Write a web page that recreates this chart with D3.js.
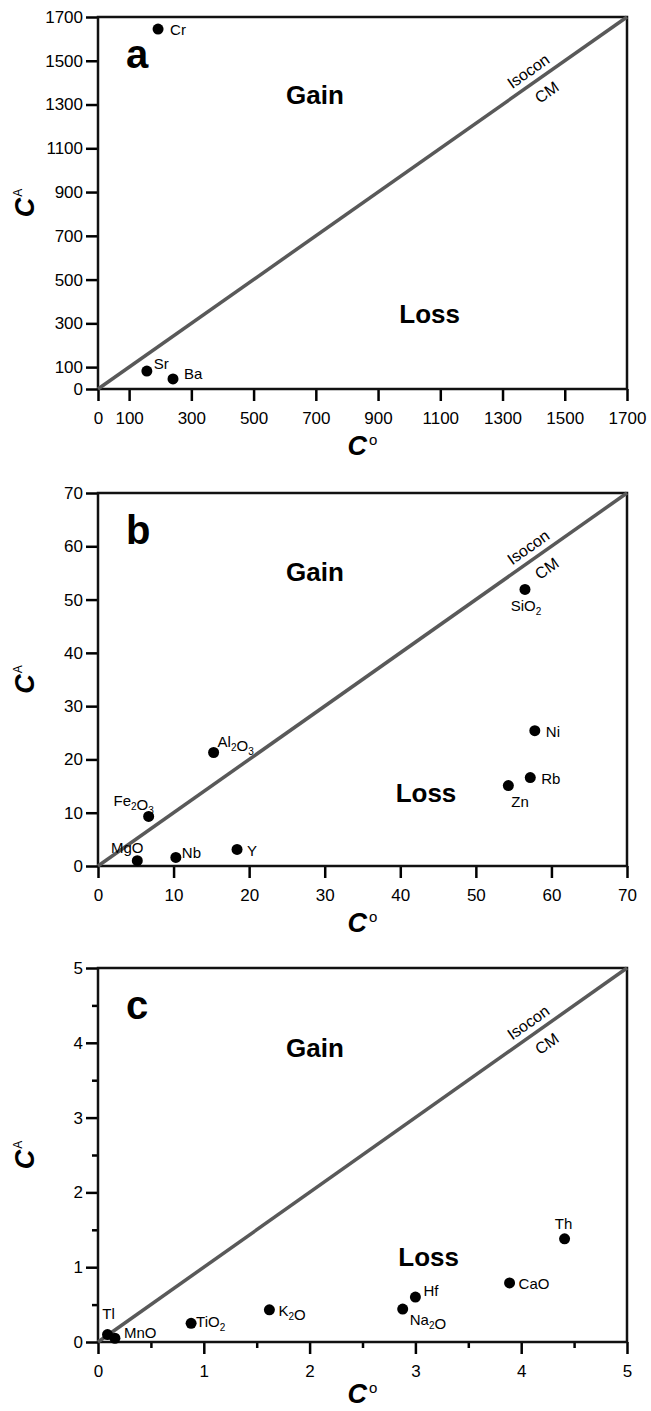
<!DOCTYPE html>
<html>
<head>
<meta charset="utf-8">
<script src="https://cdn.jsdelivr.net/npm/d3@7"></script>
<style>
  html, body { margin: 0; padding: 0; background: #fff; }
  svg { display: block; }
  text { font-family: "Liberation Sans", Arial, sans-serif; fill: #000; }
</style>
</head>
<body>
<svg id="chart" width="651" height="1411"></svg>
<script>
// ---- Isocon data: original concentration (C°) vs altered concentration (C^A) ----

// (a) high-concentration trace elements, ppm
const aNames = ["Cr", "Sr", "Ba"];
const aCo    = [193, 157, 241];
const aCa    = [1645, 82, 46];
const aTicks = [0, 100, 300, 500, 700, 900, 1100, 1300, 1500, 1700];

// (b) major oxides (wt%) and trace elements
const bNames = ["SiO2", "Ni", "Rb", "Zn", "Al2O3", "Fe2O3", "MgO", "Nb", "Y"];
const bCo    = [56.5, 57.8, 57.2, 54.3, 15.3, 6.7, 5.2, 10.3, 18.4];
const bCa    = [51.9, 25.4, 16.6, 15.1, 21.3, 9.3, 1.0, 1.6, 3.1];
const bTicks = [0, 10, 20, 30, 40, 50, 60, 70];

// (c) minor oxides and trace elements
const cNames = ["Tl", "MnO", "TiO2", "K2O", "Hf", "Na2O", "CaO", "Th"];
const cCo    = [0.09, 0.16, 0.88, 1.62, 3.0, 2.88, 3.89, 4.41];
const cCa    = [0.10, 0.05, 0.25, 0.43, 0.60, 0.44, 0.79, 1.38];
const cTicks = [0, 1, 2, 3, 4, 5];
const cMinor = [0.5, 1.5, 2.5, 3.5, 4.5];

// ---- layout ----
const svg = d3.select("#chart");
const LEFT = 98, RIGHT = 627;
const FONT = "'Liberation Sans', Arial, sans-serif";

// label placement relative to each dot: [dx, dy, anchor]
const labelPos = {
  Cr: [12, 6, "start"], Sr: [7, -2, "start"], Ba: [11, 0, "start"],
  SiO2: [1, 22, "middle"], Ni: [11, 6, "start"], Rb: [11, 6, "start"],
  Zn: [3, 21, "start"], Al2O3: [4, -6, "start"], Fe2O3: [-15, -10, "middle"],
  MgO: [-10, -8, "middle"], Nb: [6, 1, "start"], Y: [10, 7, "start"],
  Tl: [1, -16, "middle"], MnO: [9, 0, "start"], TiO2: [5, 4, "start"],
  K2O: [9, 6, "start"], Hf: [8, -1, "start"], Na2O: [7, 16, "start"],
  CaO: [9, 6, "start"], Th: [-1, -10, "middle"]
};

// write a chemical formula with digits as subscripts
function formula(sel, name) {
  const parts = name.match(/[A-Za-z]+|\d+/g);
  parts.forEach(p => {
    if (/\d/.test(p)) {
      sel.append("tspan").attr("font-size", 10).attr("dy", 4).text(p);
      sel.append("tspan").attr("dy", -4).text("");
    } else {
      sel.append("tspan").text(p);
    }
  });
}

function drawPanel(cfg) {
  const g = svg.append("g");
  const x = d3.scaleLinear().domain([0, cfg.max]).range([LEFT, RIGHT]);
  const y = d3.scaleLinear().domain([0, cfg.max]).range([cfg.bottom, cfg.top]);

  // x axis
  const xa = g.append("g")
    .attr("transform", `translate(0,${cfg.bottom})`)
    .call(d3.axisBottom(x).tickValues(cfg.ticks).tickSize(12).tickPadding(11).tickFormat(d3.format("d")));
  // y axis
  const ya = g.append("g")
    .attr("transform", `translate(${LEFT},0)`)
    .call(d3.axisLeft(y).tickValues(cfg.ticks).tickSize(12).tickPadding(3).tickFormat(d3.format("d")));
  [xa, ya].forEach(a => {
    a.select(".domain").remove();
    a.selectAll(".tick line").attr("stroke", "#000").attr("stroke-width", 2.5);
    a.selectAll(".tick text").attr("font-size", 17).attr("font-family", FONT).attr("fill", "#000");
  });

  if (cfg.minor) {
    const mx = g.append("g").attr("transform", `translate(0,${cfg.bottom})`)
      .call(d3.axisBottom(x).tickValues(cfg.minor).tickSize(6).tickFormat(""));
    const my = g.append("g").attr("transform", `translate(${LEFT},0)`)
      .call(d3.axisLeft(y).tickValues(cfg.minor).tickSize(6).tickFormat(""));
    [mx, my].forEach(a => {
      a.select(".domain").remove();
      a.selectAll(".tick line").attr("stroke", "#000").attr("stroke-width", 2.5);
    });
  }

  // frame
  g.append("rect")
    .attr("x", LEFT).attr("y", cfg.top)
    .attr("width", RIGHT - LEFT).attr("height", cfg.bottom - cfg.top)
    .attr("fill", "none").attr("stroke", "#111").attr("stroke-width", 2.5);

  // isocon (constant mass) line, C^A = C°
  g.append("line")
    .attr("x1", x(0)).attr("y1", y(0))
    .attr("x2", x(cfg.max)).attr("y2", y(cfg.max))
    .attr("stroke", "#595959").attr("stroke-width", 3.5);

  const ang = -Math.atan2(cfg.bottom - cfg.top, RIGHT - LEFT) * 180 / Math.PI;
  const t = 0.827 * cfg.max;
  const iso = g.append("g").attr("transform", `translate(${x(t)},${y(t)}) rotate(${ang})`);
  iso.append("text").attr("text-anchor", "middle").attr("dy", -7)
    .attr("font-size", 16).attr("fill", "#222").text("Isocon");
  iso.append("text").attr("text-anchor", "middle").attr("dy", 21).attr("x", 3)
    .attr("font-size", 16).attr("fill", "#222").text("CM");

  // panel letter and region labels
  g.append("text").attr("x", 126).attr("y", cfg.top + 51)
    .attr("font-size", 40).attr("font-weight", "bold").text(cfg.letter);
  g.append("text").attr("x", LEFT + cfg.gain[0] * (RIGHT - LEFT)).attr("y", cfg.top + cfg.gain[1])
    .attr("text-anchor", "middle").attr("font-size", 26).attr("font-weight", "bold").text("Gain");
  g.append("text").attr("x", LEFT + cfg.loss[0] * (RIGHT - LEFT)).attr("y", cfg.top + cfg.loss[1])
    .attr("text-anchor", "middle").attr("font-size", 26).attr("font-weight", "bold").text("Loss");

  // data points
  const pts = cfg.names.map((n, i) => ({ name: n, co: cfg.co[i], ca: cfg.ca[i] }));
  g.selectAll("circle.pt").data(pts).join("circle")
    .attr("class", "pt")
    .attr("cx", d => x(d.co)).attr("cy", d => y(d.ca)).attr("r", 5.5).attr("fill", "#000");
  pts.forEach(d => {
    const [dx, dy, anchor] = labelPos[d.name];
    const tx = g.append("text")
      .attr("x", x(d.co) + dx).attr("y", y(d.ca) + dy)
      .attr("text-anchor", anchor).attr("font-size", 15);
    formula(tx, d.name);
  });

  // axis titles
  const xt = g.append("text").attr("x", (LEFT + RIGHT) / 2).attr("y", cfg.bottom + cfg.titleGap)
    .attr("text-anchor", "middle");
  xt.append("tspan").attr("font-size", 27).attr("font-weight", "bold").attr("font-style", "italic").text("C");
  xt.append("tspan").attr("font-size", 15).attr("dy", -10).attr("dx", 2).text("o");

  const yt = g.append("text")
    .attr("transform", `translate(34,${(cfg.top + cfg.bottom) / 2}) rotate(-90)`)
    .attr("text-anchor", "middle");
  yt.append("tspan").attr("font-size", 27).attr("font-weight", "bold").attr("font-style", "italic").text("C");
  yt.append("tspan").attr("font-size", 12).attr("dy", -12).attr("dx", 1).text("A");
}

drawPanel({ letter: "a", max: 1700, top: 17, bottom: 389, ticks: aTicks, titleGap: 66,
  names: aNames, co: aCo, ca: aCa, gain: [0.41, 87], loss: [0.627, 306] });
drawPanel({ letter: "b", max: 70, top: 493, bottom: 866, ticks: bTicks, titleGap: 66,
  names: bNames, co: bCo, ca: bCa, gain: [0.41, 88], loss: [0.62, 309] });
drawPanel({ letter: "c", max: 5, top: 968, bottom: 1342, ticks: cTicks, minor: cMinor, titleGap: 61,
  names: cNames, co: cCo, ca: cCa, gain: [0.41, 89], loss: [0.625, 298] });
</script>
</body>
</html>
